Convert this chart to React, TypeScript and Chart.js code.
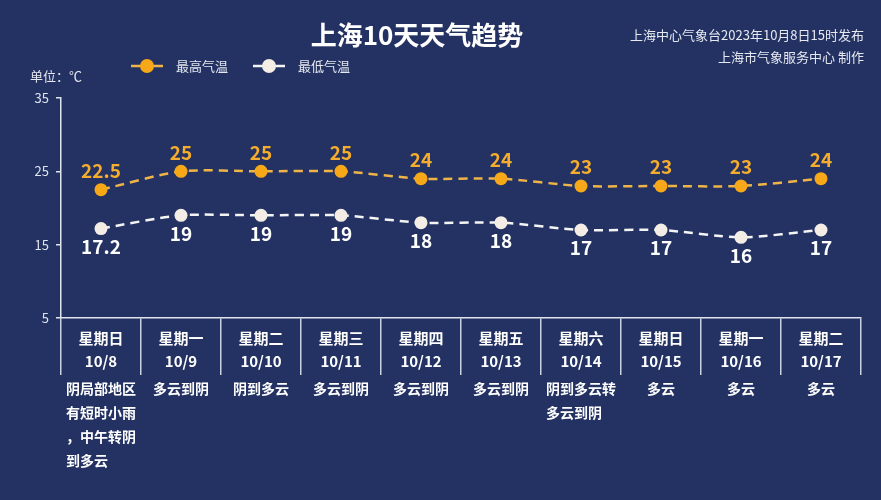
import React, { useEffect, useRef } from "react";
import { Chart, registerables, ChartConfiguration, Plugin } from "chart.js";

Chart.register(...registerables);

const FONT = '"Noto Sans CJK SC", "Noto Sans", sans-serif';

const weekdays = ["星期日", "星期一", "星期二", "星期三", "星期四", "星期五", "星期六", "星期日", "星期一", "星期二"];
const dates = ["10/8", "10/9", "10/10", "10/11", "10/12", "10/13", "10/14", "10/15", "10/16", "10/17"];
const highTemps = [22.5, 25, 25, 25, 24, 24, 23, 23, 23, 24];
const lowTemps = [17.2, 19, 19, 19, 18, 18, 17, 17, 16, 17];
const weather = [
  ["阴局部地区", "有短时小雨", "，中午转阴", "到多云"],
  ["多云到阴"],
  ["阴到多云"],
  ["多云到阴"],
  ["多云到阴"],
  ["多云到阴"],
  ["阴到多云转", "多云到阴"],
  ["多云"],
  ["多云"],
  ["多云"],
];
const yTicks = [5, 15, 25, 35];

const HIGH_COLOR = "#f6a818";
const HIGH_LINE = "#efb447";
const LOW_COLOR = "#f3ede6";
const LOW_LINE = "#f4f4f4";

// title, source note, unit, legend
const headerPlugin: Plugin = {
  id: "header",
  afterDraw(chart) {
    const ctx = chart.ctx;
    ctx.save();
    ctx.textBaseline = "middle";
    ctx.fillStyle = "#ffffff";
    ctx.font = `bold 26px ${FONT}`;
    ctx.textAlign = "center";
    ctx.fillText("上海10天天气趋势", 417, 35);

    ctx.font = `13px ${FONT}`;
    ctx.fillStyle = "#e6e9f0";
    ctx.textAlign = "right";
    ctx.fillText("上海中心气象台2023年10月8日15时发布", 864, 35);
    ctx.fillText("上海市气象服务中心 制作", 864, 57);

    ctx.textAlign = "left";
    ctx.fillText("单位：℃", 30, 76);

    const items = [
      { x: 131, label: "最高气温", line: HIGH_LINE, dot: HIGH_COLOR },
      { x: 253, label: "最低气温", line: LOW_LINE, dot: LOW_COLOR },
    ];
    items.forEach((it) => {
      ctx.strokeStyle = it.line;
      ctx.lineWidth = 2.5;
      ctx.beginPath();
      ctx.moveTo(it.x, 66);
      ctx.lineTo(it.x + 32, 66);
      ctx.stroke();
      ctx.fillStyle = it.dot;
      ctx.beginPath();
      ctx.arc(it.x + 16, 66, 7, 0, Math.PI * 2);
      ctx.fill();
      ctx.fillStyle = "#e6e9f0";
      ctx.fillText(it.label, it.x + 45, 66);
    });
    ctx.restore();
  },
};

// numbers above/below points
const valueLabels: Plugin = {
  id: "valueLabels",
  afterDatasetsDraw(chart) {
    const ctx = chart.ctx;
    ctx.save();
    ctx.font = `bold 19px ${FONT}`;
    ctx.textAlign = "center";
    ctx.textBaseline = "middle";
    chart.data.datasets.forEach((ds, di) => {
      const meta = chart.getDatasetMeta(di);
      meta.data.forEach((pt, i) => {
        const v = ds.data[i] as number;
        if (di === 0) {
          ctx.fillStyle = "#f5ad2e";
          ctx.fillText(String(v), pt.x, pt.y - 19);
        } else {
          ctx.fillStyle = "#ffffff";
          ctx.fillText(String(v), pt.x, pt.y + 18);
        }
      });
    });
    ctx.restore();
  },
};

// weather text under the axis
const weatherText: Plugin = {
  id: "weatherText",
  afterDraw(chart) {
    const ctx = chart.ctx;
    const xs = chart.scales.x;
    ctx.save();
    ctx.font = `bold 14px ${FONT}`;
    ctx.fillStyle = "#ffffff";
    ctx.textBaseline = "middle";
    ctx.textAlign = "left";
    weather.forEach((lines, i) => {
      const cx = xs.getPixelForValue(i);
      const w = Math.max(...lines.map((l) => ctx.measureText(l).width));
      lines.forEach((l, j) => {
        ctx.fillText(l, cx - w / 2, xs.top + 71 + j * 24);
      });
    });
    ctx.restore();
  },
};

function App() {
  const chartRef = useRef<HTMLCanvasElement | null>(null);
  const chartInstance = useRef<Chart | null>(null);

  useEffect(() => {
    document.body.style.margin = "0";
    if (!chartRef.current) return;
    if (chartInstance.current) chartInstance.current.destroy();

    const config: ChartConfiguration = {
      type: "line",
      data: {
        labels: weekdays.map((w, i) => [w, dates[i]]),
        datasets: [
          {
            label: "最高气温",
            data: highTemps,
            borderColor: HIGH_LINE,
            borderWidth: 2.5,
            borderDash: [9, 6],
            pointRadius: 6.5,
            pointBackgroundColor: HIGH_COLOR,
            pointBorderWidth: 0,
            tension: 0.25,
          },
          {
            label: "最低气温",
            data: lowTemps,
            borderColor: LOW_LINE,
            borderWidth: 2.5,
            borderDash: [9, 6],
            pointRadius: 6.5,
            pointBackgroundColor: LOW_COLOR,
            pointBorderWidth: 0,
            tension: 0.25,
          },
        ],
      },
      options: {
        animation: false,
        responsive: true,
        maintainAspectRatio: false,
        layout: { padding: { top: 98, right: 20, left: 0, bottom: 0 } },
        plugins: {
          legend: { display: false },
          tooltip: { enabled: false },
        },
        scales: {
          x: {
            type: "category",
            offset: true,
            grid: {
              offset: true,
              drawOnChartArea: false,
              tickLength: 57,
              color: "#c9d1e0",
              lineWidth: 1.5,
            },
            border: { display: true, color: "#dfe4ee", width: 1.5 },
            ticks: {
              color: "#ffffff",
              font: { family: FONT, size: 15, weight: "bold", lineHeight: 23 / 15 },
              padding: -48,
              autoSkip: false,
              maxRotation: 0,
            },
            afterFit: (scale) => {
              scale.height = 182;
            },
          },
          y: {
            min: yTicks[0],
            max: yTicks[yTicks.length - 1],
            afterBuildTicks: (scale) => {
              scale.ticks = yTicks.map((v) => ({ value: v }));
            },
            grid: {
              drawOnChartArea: false,
              tickLength: 5,
              color: "#dfe4ee",
              lineWidth: 1.5,
            },
            border: { display: true, color: "#dfe4ee", width: 1.5 },
            ticks: {
              color: "#dfe4ee",
              font: { family: FONT, size: 13 },
              padding: 7,
            },
            afterFit: (scale) => {
              scale.width = 61;
            },
          },
        },
      },
      plugins: [headerPlugin, valueLabels, weatherText],
    };

    chartInstance.current = new Chart(chartRef.current, config);
    return () => {
      if (chartInstance.current) chartInstance.current.destroy();
    };
  }, []);

  return (
    <div style={{ width: 881, height: 500, background: "#233263", position: "relative" }}>
      <canvas ref={chartRef} />
    </div>
  );
}

export default App;
